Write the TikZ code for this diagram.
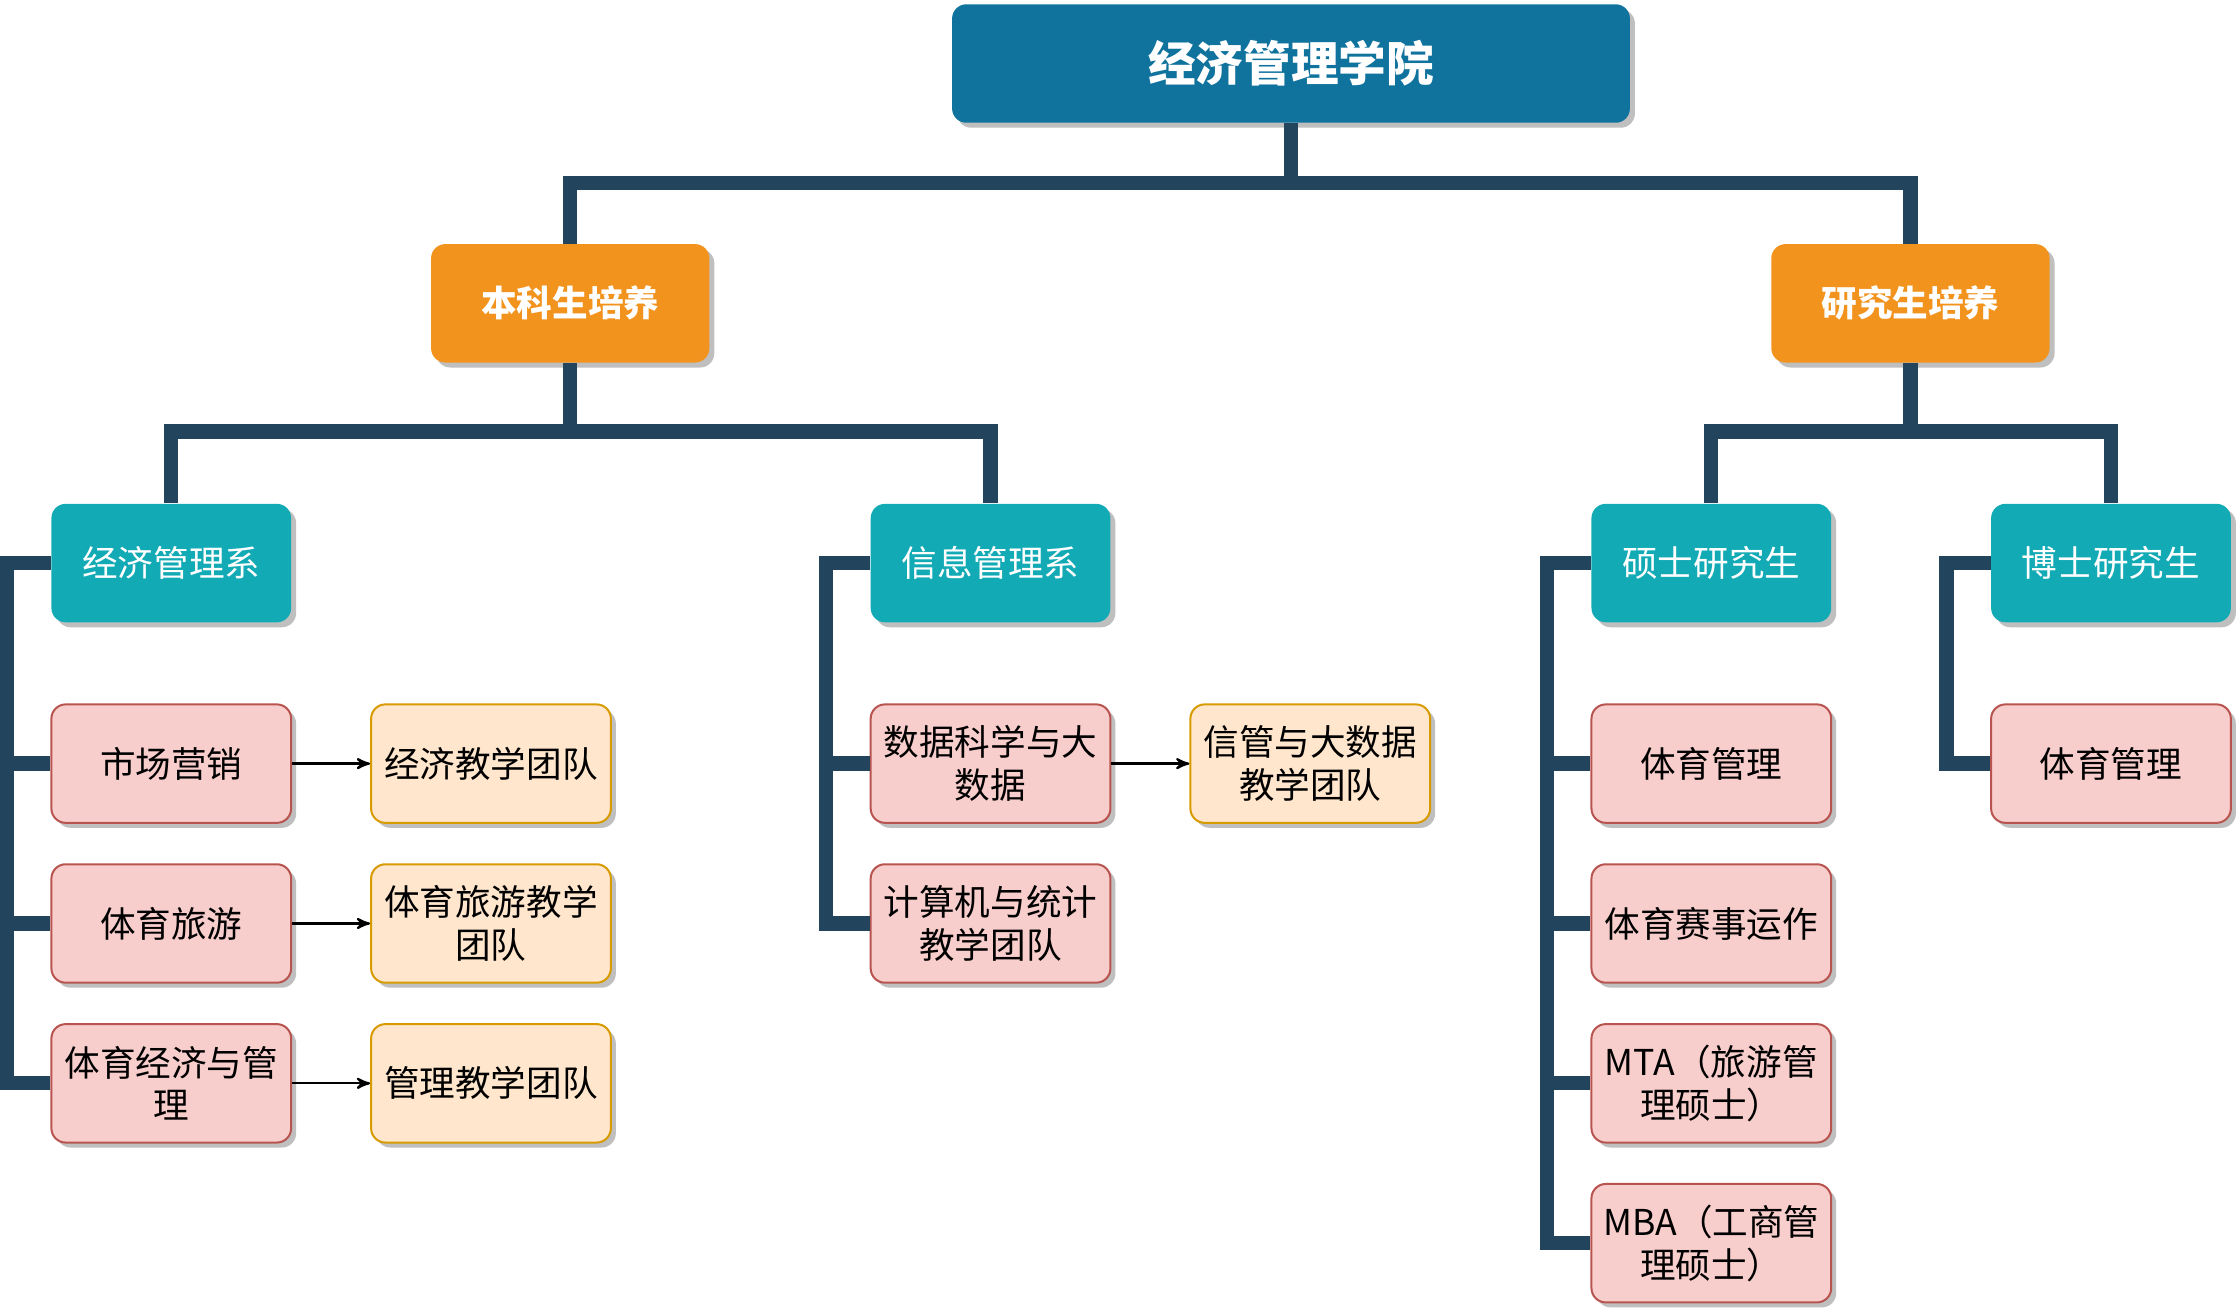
\documentclass[tikz,border=0pt]{standalone}
\usepackage{fontspec}
\setmainfont{Noto Sans CJK SC}
\usetikzlibrary{shapes,arrows,shadows}

\definecolor{deanblue}{HTML}{10739E}
\definecolor{degorange}{HTML}{F2931E}
\definecolor{deptteal}{HTML}{12AAB5}
\definecolor{trunkcol}{HTML}{23445D}
\definecolor{majorfill}{HTML}{F8CECC}
\definecolor{majorline}{HTML}{B85450}
\definecolor{teamfill}{HTML}{FFE6CC}
\definecolor{teamline}{HTML}{D79B00}

\tikzset{
  box/.style={rounded corners=0.2cm, align=center, inner sep=0.08cm,
    drop shadow={shadow xshift=0.07cm, shadow yshift=-0.07cm, fill=black, opacity=0.25},
    font=\fontsize{14.2}{17}\selectfont},
  dean/.style={box, fill=deanblue, text=white, minimum width=9.5cm, minimum height=1.66cm,
    font=\fontsize{19}{22}\selectfont\bfseries},
  degree/.style={box, fill=degorange, text=white, minimum width=3.9cm, minimum height=1.66cm,
    font=\fontsize{14.2}{17}\selectfont\bfseries},
  dept/.style={box, fill=deptteal, text=white, minimum width=3.36cm, minimum height=1.66cm},
  major/.style={box, fill=majorfill, draw=majorline, line width=0.8pt, minimum width=3.36cm, minimum height=1.66cm},
  team/.style={box, fill=teamfill, draw=teamline, line width=0.8pt, minimum width=3.36cm, minimum height=1.66cm},
  trunk/.style={draw=trunkcol, line width=5.7pt, line join=miter},
  link/.style={->, line width=0.9pt},
}

\begin{document}
\begin{tikzpicture}[x=0.02cm, y=-0.02cm, >=stealth']
\useasboundingbox (0,0) rectangle (1568,920);

% top levels
\node[dean] (school) at (904.5,44.5) {经济管理学院};
\node[degree] (ug) at (399.5,212.5) {本科生培养};
\node[degree] (pg) at (1338.5,212.5) {研究生培养};

% departments
\node[dept] (econ) at (120,394.5) {经济管理系};
\node[dept] (info) at (694,394.5) {信息管理系};
\node[dept] (master) at (1199,394.5) {硕士研究生};
\node[dept] (phd) at (1479,394.5) {博士研究生};

% majors
\node[major] (mkt) at (120,535) {市场营销};
\node[major] (tour) at (120,647) {体育旅游};
\node[major] (spec) at (120,759) {体育经济与管\\理};
\node[team] (tmecon) at (344,535) {经济教学团队};
\node[team] (tmtour) at (344,647) {体育旅游教学\\团队};
\node[team] (tmman) at (344,759) {管理教学团队};

\node[major] (data) at (694,535) {数据科学与大\\数据};
\node[major] (comp) at (694,647) {计算机与统计\\教学团队};
\node[team] (tmdata) at (918,535) {信管与大数据\\教学团队};

\node[major] (msport) at (1199,535) {体育管理};
\node[major] (mevent) at (1199,647) {体育赛事运作};
\node[major] (mta) at (1199,759) {MTA（旅游管\\理硕士）};
\node[major] (mba) at (1199,871) {MBA（工商管\\理硕士）};

\node[major] (dsport) at (1479,535) {体育管理};

% tree lines
\draw[trunk] (school.south) -- ++(0,42) -| (ug.north);
\draw[trunk] (school.south) -- ++(0,42) -| (pg.north);
\draw[trunk] (ug.south) -- ++(0,48) -| (econ.north);
\draw[trunk] (ug.south) -- ++(0,48) -| (info.north);
\draw[trunk] (pg.south) -- ++(0,48) -| (master.north);
\draw[trunk] (pg.south) -- ++(0,48) -| (phd.north);

\foreach \m in {mkt,tour,spec}{\draw[trunk] (econ.west) -- ++(-31,0) |- (\m.west);}
\foreach \m in {data,comp}{\draw[trunk] (info.west) -- ++(-31,0) |- (\m.west);}
\foreach \m in {msport,mevent,mta,mba}{\draw[trunk] (master.west) -- ++(-31,0) |- (\m.west);}
\draw[trunk] (phd.west) -- ++(-31,0) |- (dsport.west);

% teams
\draw[link] (mkt) -- (tmecon);
\draw[link] (tour) -- (tmtour);
\draw[link] (spec) -- (tmman);
\draw[link] (data) -- (tmdata);
\end{tikzpicture}
\end{document}
